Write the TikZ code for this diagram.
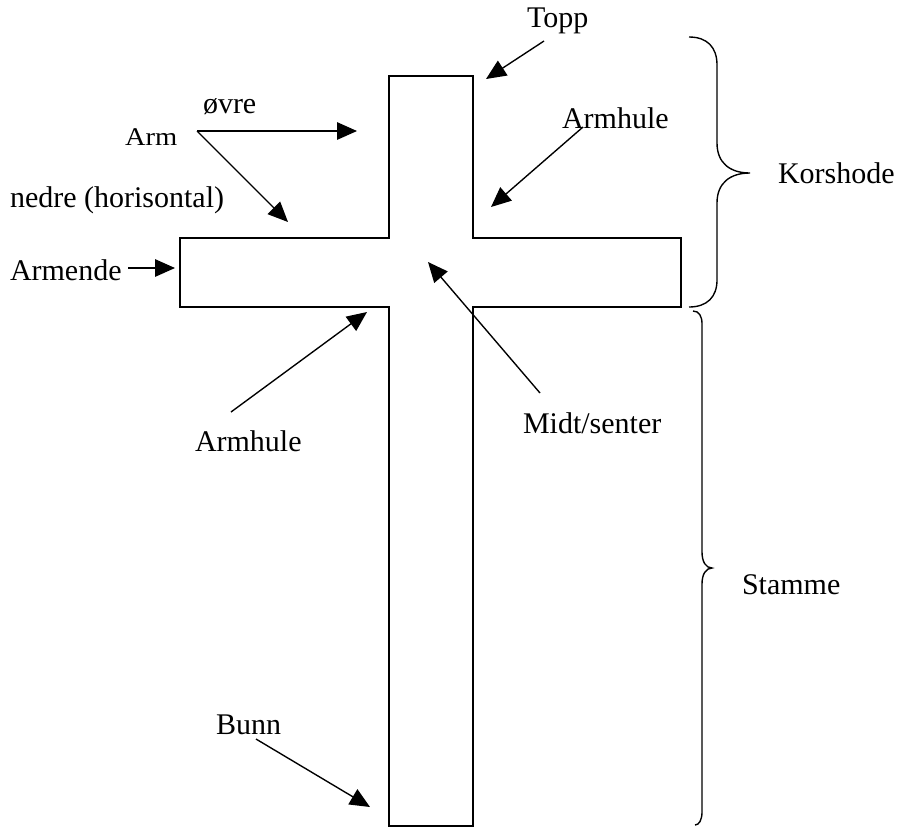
\documentclass[tikz,border=0pt]{standalone}
\usepackage{fontspec}
\setmainfont{Liberation Serif}
\usepackage{graphicx}
\usetikzlibrary{arrows.meta}
\begin{document}
\begin{tikzpicture}[x=0.4pt,y=-0.4pt,
  lbl/.style={anchor=base west,inner sep=0pt,outer sep=0pt,font=\fontsize{12}{14}\selectfont},
  ptr/.style={line width=0.55pt,-{Triangle[length=8pt,width=7pt]}},
  outline/.style={line width=0.5pt},
  brace/.style={line width=0.55pt}]
\useasboundingbox (0,0) rectangle (898,828);
% cross
\draw[outline] (389,76) -- (473,76) -- (473,238) -- (681,238) -- (681,307) -- (473,307)
  -- (473,826) -- (389,826) -- (389,307) -- (180,307) -- (180,238) -- (389,238) -- cycle;
% labels
\node[lbl] (topp) at (527,27) {Topp};
\node[lbl] (ovre) at (203,113) {øvre};
\node[lbl] (arm) at (125,145) {\scalebox{0.95}[0.85]{Arm}};
\node[lbl] (nedre) at (10,207) {nedre (horisontal)};
\node[lbl] (armende) at (10,280) {Armende};
\node[lbl] (armhuleA) at (562,128) {Armhule};
\node[lbl] (korshode) at (778,183) {Korshode};
\node[lbl] (armhuleB) at (195,451) {Armhule};
\node[lbl] (midt) at (523,433) {Midt/senter};
\node[lbl] (bunn) at (216,734) {Bunn};
\node[lbl] (stamme) at (742,594) {Stamme};
% arrow end points
\coordinate (toppS) at (544,41);   \coordinate (toppT) at (486,79);
\coordinate (ahAS) at (583,127);   \coordinate (ahAT) at (491,207);
\coordinate (armS) at (197,131);
\coordinate (ovreT) at (357,131);
\coordinate (nedreT) at (288,222);
\coordinate (amS) at (128,268);    \coordinate (amT) at (175,268);
\coordinate (midtS) at (540,393);  \coordinate (midtT) at (428,262);
\coordinate (ahBS) at (231,412);   \coordinate (ahBT) at (367,312);
\coordinate (bunnS) at (256,739);  \coordinate (bunnT) at (370,807);
\draw[ptr] (toppS) -- (toppT);
\draw[ptr] (ahAS) -- (ahAT);
\draw[ptr] (armS) -- (ovreT);
\draw[ptr] (armS) -- (nedreT);
\draw[ptr] (amS) -- (amT);
\draw[ptr] (midtS) -- (midtT);
\draw[ptr] (ahBS) -- (ahBT);
\draw[ptr] (bunnS) -- (bunnT);
% braces
\draw[brace] (689,37) .. controls (707,37) and (717,47) .. (717,65)
  -- (717,143) .. controls (717,163) and (730,173) .. (750,173)
  .. controls (730,173) and (717,183) .. (717,203)
  -- (717,280) .. controls (717,297) and (707,307) .. (689,307);
\draw[brace] (693,311) .. controls (699,311) and (702,316) .. (702,324)
  -- (702,552) .. controls (702,562) and (706,568) .. (712,568)
  .. controls (706,568) and (702,574) .. (702,584)
  -- (702,812) .. controls (702,820) and (699,825) .. (695,825);
\end{tikzpicture}
\end{document}
